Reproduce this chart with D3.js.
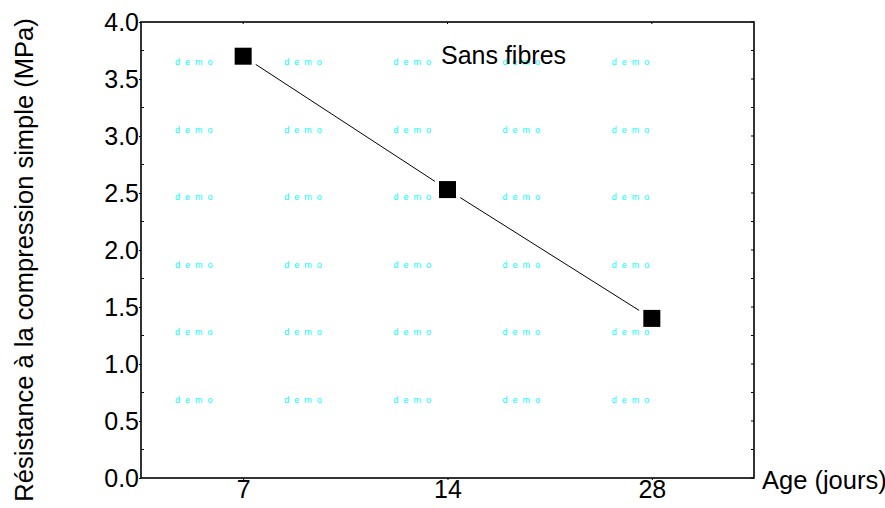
<!DOCTYPE html>
<html>
<head>
<meta charset="utf-8">
<script src="https://cdn.jsdelivr.net/npm/d3@7"></script>
<style>
  html, body { margin: 0; padding: 0; background: #fff; }
  svg { display: block; font-family: "Liberation Sans", Arial, sans-serif; }
</style>
</head>
<body>
<svg id="chart" width="885" height="508"></svg>
<script>
// Age of the specimens (days) and unconfined compressive strength (MPa)
const ages = ["7", "14", "28"];
const strength = [3.70, 2.53, 1.40];
const yTickValues = [0.0, 0.5, 1.0, 1.5, 2.0, 2.5, 3.0, 3.5, 4.0];
const yMinorTicks = [0.25, 0.75, 1.25, 1.75, 2.25, 2.75, 3.25, 3.75];
const seriesLabel = "Sans fibres";
const xTitle = "Age (jours)";
const yTitle = "Résistance à la compression simple (MPa)";
const watermarkCols = [0, 1, 2, 3, 4];
const watermarkRows = [0, 1, 2, 3, 4, 5];

const W = 885, H = 508;
const margin = { top: 22, right: 131, bottom: 30, left: 141 };
const plotW = W - margin.left - margin.right;
const plotH = H - margin.top - margin.bottom;

const svg = d3.select("#chart");
const g = svg.append("g").attr("transform", `translate(${margin.left},${margin.top})`);

const x = d3.scalePoint().domain(ages).range([0, plotW]).padding(0.5);
const y = d3.scaleLinear().domain([0, 4]).range([plotH, 0]);

// evaluation-copy watermark grid
const wm = g.append("g").attr("fill", "#00ffff").attr("font-size", 9)
  .style("letter-spacing", "5px");
watermarkRows.forEach(r => {
  watermarkCols.forEach(c => {
    wm.append("text")
      .attr("x", 34 + c * 109.2)
      .attr("y", 43 + r * 67.6)
      .text("demo");
  });
});

// frame
g.append("rect").attr("width", plotW).attr("height", plotH)
  .attr("fill", "none").attr("stroke", "#000").attr("stroke-width", 1.6);

// left axis
const yAxis = g.append("g")
  .call(d3.axisLeft(y).tickValues(yTickValues).tickFormat(d3.format(".1f"))
    .tickSize(2).tickSizeOuter(0).tickPadding(0));
yAxis.select(".domain").remove();
yAxis.selectAll("text").attr("font-size", 25).attr("fill", "#000")
  .attr("font-family", "Liberation Sans, Arial, sans-serif");
yAxis.selectAll("line").attr("stroke", "#000");

// minor ticks (inside) on left and right sides
g.append("g").selectAll("line.minl").data(yMinorTicks).join("line")
  .attr("x1", 0).attr("x2", 3).attr("y1", d => y(d)).attr("y2", d => y(d))
  .attr("stroke", "#000");
g.append("g").selectAll("line.minr").data(yMinorTicks.concat(yTickValues)).join("line")
  .attr("x1", plotW - 3).attr("x2", plotW).attr("y1", d => y(d)).attr("y2", d => y(d))
  .attr("stroke", "#000");

// bottom axis
const xAxis = g.append("g").attr("transform", `translate(0,${plotH})`)
  .call(d3.axisBottom(x).tickSize(2).tickSizeOuter(0).tickPadding(0));
xAxis.select(".domain").remove();
xAxis.selectAll("text").attr("font-size", 25).attr("fill", "#000")
  .attr("font-family", "Liberation Sans, Arial, sans-serif");
xAxis.selectAll("line").attr("stroke", "#000");

// top mirrored ticks
g.append("g").selectAll("line").data(ages).join("line")
  .attr("x1", d => x(d)).attr("x2", d => x(d)).attr("y1", 0).attr("y2", 2)
  .attr("stroke", "#000");

// connecting line, stopping short of each marker
const pts = ages.map((a, i) => [x(a), y(strength[i])]);
const gap = 15;
const segs = d3.pairs(pts).map(([p, q]) => {
  const dx = q[0] - p[0], dy = q[1] - p[1];
  const len = Math.hypot(dx, dy);
  const ux = dx / len, uy = dy / len;
  return [p[0] + ux * gap, p[1] + uy * gap, q[0] - ux * gap, q[1] - uy * gap];
});
g.append("g").selectAll("line").data(segs).join("line")
  .attr("x1", d => d[0]).attr("y1", d => d[1])
  .attr("x2", d => d[2]).attr("y2", d => d[3])
  .attr("stroke", "#000").attr("stroke-width", 1);

// square markers
const ms = 17;
g.append("g").selectAll("rect").data(strength).join("rect")
  .attr("x", (d, i) => x(ages[i]) - ms / 2)
  .attr("y", d => y(d) - ms / 2)
  .attr("width", ms).attr("height", ms)
  .attr("fill", "#000");

// series label
g.append("text").attr("x", 300).attr("y", 42)
  .attr("font-size", 25).attr("fill", "#000").text(seriesLabel);

// axis titles
svg.append("text").attr("x", 762).attr("y", 489)
  .attr("font-size", 25.5).attr("fill", "#000").text(xTitle);
svg.append("text").attr("transform", "translate(33,260) rotate(-90)")
  .attr("text-anchor", "middle").attr("font-size", 25.5).attr("fill", "#000")
  .text(yTitle);
</script>
</body>
</html>
